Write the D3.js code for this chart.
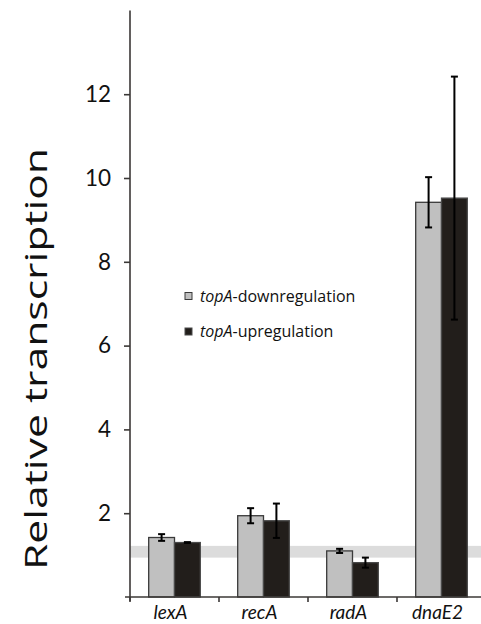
<!DOCTYPE html>
<html><head><meta charset="utf-8">
<script src="https://cdn.jsdelivr.net/npm/d3@7"></script>
<style>html,body{margin:0;padding:0;background:#fff;overflow:hidden}</style>
</head><body>
<svg id="c" width="481" height="624"></svg>
<script>
const categories = ["lexA", "recA", "radA", "dnaE2"];
const seriesNames = ["topA-downregulation", "topA-upregulation"];
const downValues = [1.42, 1.94, 1.10, 9.42];
const downErrors = [0.08, 0.18, 0.05, 0.60];
const upValues = [1.30, 1.82, 0.82, 9.52];
const upErrors = [0.01, 0.41, 0.12, 2.90];
const yTicks = [2, 4, 6, 8, 10, 12];
const bandRange = [0.94, 1.22];
const colors = ["#c0c0c0", "#221e1b"];
const strokes = ["#3a3a3a", "#4a4a4a"];

const svg = d3.select("#c");
const font = "Lato, 'Open Sans', sans-serif";
const font2 = "'Open Sans', Lato, sans-serif";
const y = d3.scaleLinear().domain([0, 14]).range([597, 10.4]);
const x = d3.scaleBand().domain(categories).range([130, 486]).paddingInner(0.42).paddingOuter(0.21);
const xs = d3.scaleBand().domain(seriesNames).range([0, x.bandwidth()]);

// reference band
svg.append("rect").attr("x", 130).attr("width", 351)
  .attr("y", y(bandRange[1])).attr("height", y(bandRange[0]) - y(bandRange[1]))
  .attr("fill", "#dcdcdc");

const data = categories.map((c, i) => ({
  cat: c,
  vals: [
    {s: seriesNames[0], v: downValues[i], e: downErrors[i], k: 0},
    {s: seriesNames[1], v: upValues[i], e: upErrors[i], k: 1}
  ]
}));

const g = svg.append("g").selectAll("g").data(data).join("g")
  .attr("transform", d => `translate(${x(d.cat)},0)`);
g.selectAll("rect").data(d => d.vals).join("rect")
  .attr("x", d => xs(d.s)).attr("width", xs.bandwidth())
  .attr("y", d => y(d.v)).attr("height", d => y(0) - y(d.v))
  .attr("fill", d => colors[d.k]).attr("stroke", d => strokes[d.k]).attr("stroke-width", 1.3);

// error bars
const eb = g.selectAll("g.eb").data(d => d.vals).join("g").attr("class", "eb")
  .attr("stroke", "#000").attr("stroke-width", 2);
eb.append("line")
  .attr("x1", d => xs(d.s) + xs.bandwidth() / 2).attr("x2", d => xs(d.s) + xs.bandwidth() / 2)
  .attr("y1", d => y(d.v + d.e)).attr("y2", d => y(d.v - d.e));
eb.append("line")
  .attr("x1", d => xs(d.s) + xs.bandwidth() / 2 - 3.5).attr("x2", d => xs(d.s) + xs.bandwidth() / 2 + 3.5)
  .attr("y1", d => y(d.v + d.e)).attr("y2", d => y(d.v + d.e));
eb.append("line")
  .attr("x1", d => xs(d.s) + xs.bandwidth() / 2 - 3.5).attr("x2", d => xs(d.s) + xs.bandwidth() / 2 + 3.5)
  .attr("y1", d => y(d.v - d.e)).attr("y2", d => y(d.v - d.e));

// y axis
const axisColor = "#3b3836";
const yAxis = svg.append("g").attr("transform", "translate(130,0)")
  .call(d3.axisLeft(y).tickValues(yTicks).tickSize(6).tickPadding(13).tickSizeOuter(0));
yAxis.select(".domain").remove();
yAxis.append("line").attr("x1", 0).attr("x2", 0).attr("y1", y(14)).attr("y2", 601)
  .attr("stroke", axisColor).attr("stroke-width", 1.6);
yAxis.selectAll(".tick line").attr("stroke", axisColor).attr("stroke-width", 1.6);
yAxis.selectAll(".tick text").attr("font-family", font).attr("font-size", 22.5).attr("fill", "#111");

// x axis
const xAxis = svg.append("g").attr("transform", `translate(0,${y(0)})`);
xAxis.append("line").attr("x1", 125).attr("x2", 481).attr("y1", 0).attr("y2", 0)
  .attr("stroke", axisColor).attr("stroke-width", 1.6);
const step = x.step();
xAxis.selectAll("line.t").data(categories).join("line").attr("class", "t")
  .attr("x1", d => x(d) - x.paddingOuter() * step).attr("x2", d => x(d) - x.paddingOuter() * step)
  .attr("y1", 0).attr("y2", 5).attr("stroke", axisColor).attr("stroke-width", 1.6);
xAxis.selectAll("text").data(categories).join("text")
  .attr("x", d => x(d) + x.bandwidth() / 2 - 4).attr("y", 22)
  .attr("text-anchor", "middle").attr("font-family", font).attr("font-style", "italic")
  .attr("font-size", 19).attr("fill", "#111").text(d => d);

// y title
svg.append("text").attr("transform", "translate(47,359) rotate(-90)")
  .attr("text-anchor", "middle").attr("font-family", font2).attr("font-size", 31)
  .attr("fill", "#111").attr("textLength", 422).attr("lengthAdjust", "spacingAndGlyphs")
  .text("Relative transcription");

// legend
const leg = svg.append("g").selectAll("g").data(seriesNames).join("g")
  .attr("transform", (d, i) => `translate(185,${292.5 + i * 35.5})`);
leg.append("rect").attr("width", 7).attr("height", 7)
  .attr("fill", (d, i) => colors[i]).attr("stroke", (d, i) => strokes[i]).attr("stroke-width", 1);
const lt = leg.append("text").attr("x", 15).attr("y", 9)
  .attr("font-family", font2).attr("font-size", 16).attr("fill", "#111");
lt.append("tspan").attr("font-style", "italic").text(d => d.split("-")[0]);
lt.append("tspan").text(d => "-" + d.split("-").slice(1).join("-"));
</script>
</body></html>
